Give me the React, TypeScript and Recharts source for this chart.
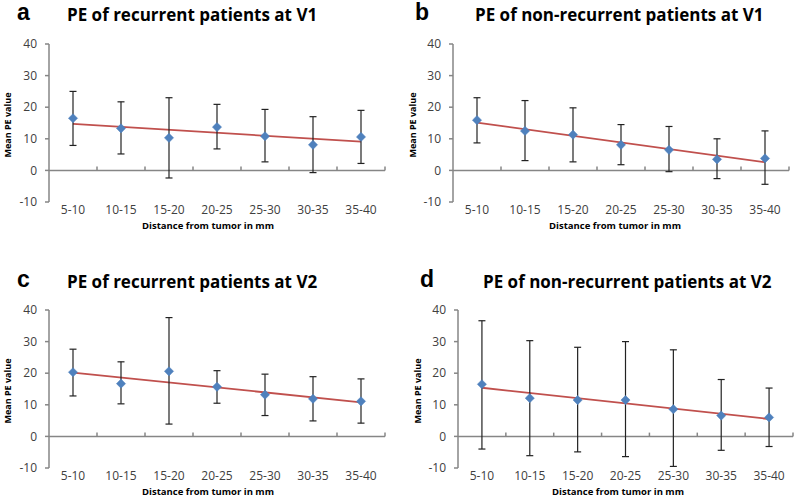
import React from 'react';
import { ComposedChart, Scatter, Line, XAxis, YAxis, ErrorBar, ReferenceLine } from 'recharts';

const categories = ['5-10', '10-15', '15-20', '20-25', '25-30', '30-35', '35-40'];
const yTicks = [-10, 0, 10, 20, 30, 40];

// Panel a: recurrent patients at V1
const meanA = [16.5, 13.3, 10.3, 13.7, 10.8, 8.1, 10.6];
const lowA = [7.9, 5.2, -2.4, 6.8, 2.7, -0.7, 2.2];
const highA = [25.0, 21.7, 23.0, 20.9, 19.3, 17.0, 19.0];
const trendA = [14.7, 9.1];

// Panel b: non-recurrent patients at V1
const meanB = [15.9, 12.5, 11.3, 8.1, 6.5, 3.5, 3.8];
const lowB = [8.7, 3.1, 2.7, 1.8, -0.4, -2.6, -4.4];
const highB = [23.0, 22.1, 19.8, 14.5, 13.9, 10.0, 12.5];
const trendB = [15.1, 2.6];

// Panel c: recurrent patients at V2
const meanC = [20.3, 16.7, 20.6, 15.7, 13.2, 11.9, 11.1];
const lowC = [12.8, 10.3, 3.9, 10.5, 6.6, 4.9, 4.2];
const highC = [27.6, 23.6, 37.6, 20.8, 19.7, 18.9, 18.2];
const trendC = [20.2, 10.8];

// Panel d: non-recurrent patients at V2
const meanD = [16.5, 12.1, 11.5, 11.5, 8.6, 6.6, 6.0];
const lowD = [-4.0, -6.1, -4.9, -6.4, -9.5, -4.4, -3.2];
const highD = [36.6, 30.3, 28.2, 30.0, 27.4, 18.0, 15.3];
const trendD = [15.4, 5.5];

const AXIS = '#868686';
const TEXT = '#404040';
const BLUE = '#4F81BD';
const RED = '#C0504D';

type Row = { x: number; mean: number; err: [number, number]; trend: number | null };

function buildRows(mean: number[], low: number[], high: number[], trend: number[]): Row[] {
  return categories.map((_, i) => ({
    x: i,
    mean: mean[i],
    err: [mean[i] - low[i], high[i] - mean[i]] as [number, number],
    trend: i === 0 ? trend[0] : i === categories.length - 1 ? trend[1] : null,
  }));
}

const boundaries = categories.map((_, i) => i + 0.5);

const Diamond = (props: any) => {
  const { cx, cy } = props;
  if (cx == null || cy == null) return null;
  const r = 4.6;
  return (
    <polygon
      points={`${cx},${cy - r} ${cx + r},${cy} ${cx},${cy + r} ${cx - r},${cy}`}
      fill={BLUE}
      stroke={BLUE}
      strokeWidth={0.5}
    />
  );
};

type PanelProps = {
  letter: string;
  title: string;
  rows: Row[];
  left: number;
  top: number;
  width: number;
  height: number;
  plotLeft: number;
  plotRight: number;
  plotTop: number;
  plotBottom: number;
  letterX: number;
  titleX: number;
  titleY: number;
  yLabelX: number;
  xLabelY: number;
  xLabelCenter: number;
};

function Panel(p: PanelProps) {
  const xAxisHeight = 20;
  return (
    <div style={{ position: 'absolute', left: p.left, top: p.top, width: p.width, height: p.height }}>
      <div
        style={{
          position: 'absolute',
          left: p.letterX,
          top: p.titleY - 17,
          fontFamily: '"Liberation Sans", Arial, sans-serif',
          fontWeight: 700,
          fontSize: 23,
          color: '#000',
          lineHeight: '26px',
        }}
      >
        {p.letter}
      </div>
      <div
        style={{
          position: 'absolute',
          left: p.titleX,
          top: p.titleY - 12,
          fontFamily: '"Open Sans", sans-serif',
          fontWeight: 700,
          fontSize: 17,
          color: '#000',
          lineHeight: '22px',
          whiteSpace: 'nowrap',
        }}
      >
        {p.title}
      </div>
      <ComposedChart
        width={p.width}
        height={p.height}
        data={p.rows}
        margin={{ top: p.plotTop, right: p.width - p.plotRight, bottom: p.height - p.plotBottom - xAxisHeight, left: 0 }}
      >
        <XAxis
          type="number"
          dataKey="x"
          domain={[-0.5, categories.length - 0.5]}
          ticks={categories.map((_, i) => i)}
          tickFormatter={(v: number) => categories[v]}
          interval={0}
          axisLine={false}
          tickLine={false}
          tickSize={0}
          tickMargin={3}
          height={xAxisHeight}
          tick={{ fill: TEXT, fontSize: 12, fontFamily: '"Open Sans", sans-serif' }}
        />
        <YAxis
          type="number"
          domain={[-10, 40]}
          ticks={yTicks}
          interval={0}
          width={p.plotLeft}
          axisLine={{ stroke: AXIS, strokeWidth: 1.5 }}
          tickLine={{ stroke: AXIS, strokeWidth: 1.5 }}
          tickSize={4}
          tickMargin={8}
          tick={{ fill: TEXT, fontSize: 12, fontFamily: '"Open Sans", sans-serif' }}
        />
        <ReferenceLine y={0} stroke={AXIS} strokeWidth={1.5} />
        {boundaries.map((b) => (
          <ReferenceLine
            key={b}
            segment={[
              { x: b, y: 0 },
              { x: b, y: 1.2 },
            ]}
            stroke={AXIS}
            strokeWidth={1.5}
          />
        ))}
        <Line
          dataKey="trend"
          stroke={RED}
          strokeWidth={1.8}
          dot={false}
          activeDot={false}
          connectNulls
          isAnimationActive={false}
        />
        <Scatter dataKey="mean" data={p.rows} shape={Diamond} isAnimationActive={false}>
          <ErrorBar dataKey="err" direction="y" width={3.5} stroke="#222" strokeWidth={1.2} />
        </Scatter>
      </ComposedChart>
      <div
        style={{
          position: 'absolute',
          left: p.yLabelX - 50,
          top: (p.plotTop + p.plotBottom) / 2 + 2 - 7,
          width: 100,
          height: 14,
          textAlign: 'center',
          transform: 'rotate(-90deg)',
          fontFamily: '"Open Sans", sans-serif',
          fontWeight: 700,
          fontSize: 9,
          lineHeight: '14px',
          color: '#000',
          whiteSpace: 'nowrap',
        }}
      >
        Mean PE value
      </div>
      <div
        style={{
          position: 'absolute',
          left: p.xLabelCenter - 100,
          width: 200,
          top: p.xLabelY - 7,
          textAlign: 'center',
          fontFamily: '"Open Sans", sans-serif',
          fontWeight: 700,
          fontSize: 9.5,
          lineHeight: '14px',
          color: '#000',
          whiteSpace: 'nowrap',
        }}
      >
        Distance from tumor in mm
      </div>
    </div>
  );
}

export default function App() {
  const rowsA = buildRows(meanA, lowA, highA, trendA);
  const rowsB = buildRows(meanB, lowB, highB, trendB);
  const rowsC = buildRows(meanC, lowC, highC, trendC);
  const rowsD = buildRows(meanD, lowD, highD, trendD);
  return (
    <div style={{ position: 'absolute', left: 0, top: 0, width: 798, height: 499, background: '#fff', overflow: 'hidden' }}>
      <Panel
        letter="a"
        title="PE of recurrent patients at V1"
        rows={rowsA}
        left={0}
        top={0}
        width={399}
        height={250}
        plotLeft={49}
        plotRight={385}
        plotTop={44}
        plotBottom={202}
        letterX={17}
        titleX={67}
        titleY={16}
        yLabelX={8}
        xLabelY={226}
        xLabelCenter={208}
      />
      <Panel
        letter="b"
        title="PE of non-recurrent patients at V1"
        rows={rowsB}
        left={398}
        top={0}
        width={400}
        height={250}
        plotLeft={55}
        plotRight={391}
        plotTop={44}
        plotBottom={202}
        letterX={17}
        titleX={77}
        titleY={16}
        yLabelX={15}
        xLabelY={226}
        xLabelCenter={217}
      />
      <Panel
        letter="c"
        title="PE of recurrent patients at V2"
        rows={rowsC}
        left={0}
        top={250}
        width={399}
        height={249}
        plotLeft={49}
        plotRight={385}
        plotTop={60}
        plotBottom={218}
        letterX={17}
        titleX={67}
        titleY={33}
        yLabelX={8}
        xLabelY={242}
        xLabelCenter={208}
      />
      <Panel
        letter="d"
        title="PE of non-recurrent patients at V2"
        rows={rowsD}
        left={398}
        top={250}
        width={400}
        height={249}
        plotLeft={60}
        plotRight={395}
        plotTop={60}
        plotBottom={218}
        letterX={22}
        titleX={85}
        titleY={33}
        yLabelX={20}
        xLabelY={242}
        xLabelCenter={220}
      />
    </div>
  );
}
